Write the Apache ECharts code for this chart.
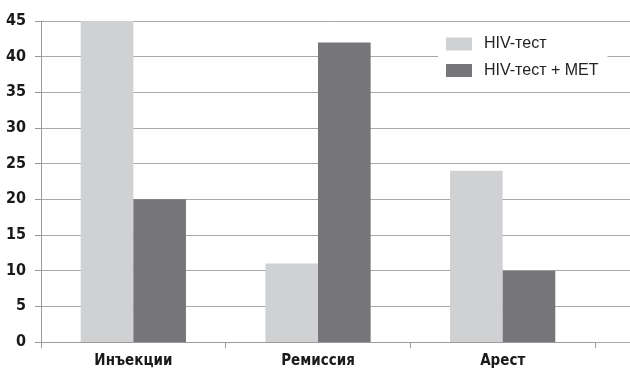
<!DOCTYPE html>
<html>
<head>
<meta charset="utf-8">
<script src="https://cdn.jsdelivr.net/npm/echarts@6/dist/echarts.min.js"></script>
<style>
  html, body { margin: 0; padding: 0; background: #fff; }
  #chart { width: 630px; height: 370px; }
</style>
</head>
<body>
<div id="chart"></div>
<script>
// Categories and values for each group
const categories = ['Инъекции', 'Ремиссия', 'Арест'];
const seriesNames = ['HIV-тест', 'HIV-тест + MET'];
const hivTest = [45, 11, 24];
const hivTestMet = [20, 42, 10];
const yMin = 0, yMax = 45, yStep = 5;

const FONT = '"Liberation Sans", Arial, sans-serif';
const NARROW = '"DejaVu Sans Condensed", "Liberation Sans Narrow", Arial, sans-serif';
const chart = echarts.init(document.getElementById('chart'), null, { renderer: 'canvas' });

chart.setOption({
  animation: false,
  backgroundColor: '#fff',
  grid: [
    { left: 41, right: 35, top: 21, bottom: 28 },
    // wider grid used only for the horizontal guide lines running to the edge
    { left: 41, right: 0, top: 21, bottom: 28 }
  ],
  legend: {
    orient: 'vertical',
    left: 438,
    top: 27,
    padding: [9, 9, 9, 8],
    backgroundColor: '#fff',
    itemWidth: 26,
    itemHeight: 13,
    itemGap: 10.5,
    icon: 'rect',
    textStyle: { fontFamily: FONT, fontSize: 16, color: '#222', lineHeight: 16, padding: [0, 0, 0, 7] },
    data: seriesNames
  },
  xAxis: [
    {
      type: 'category',
      gridIndex: 0,
      data: categories,
      axisLine: { lineStyle: { color: '#9a9a9a', width: 1 } },
      axisTick: {
        show: true, length: 6, lineStyle: { color: '#9a9a9a' },
        // boundary ticks on the left of each category only
        interval: (i) => i < categories.length
      },
      axisLabel: { fontFamily: NARROW, fontWeight: 'bold', fontSize: 15, color: '#1a1a1a', margin: 12 }
    },
    { type: 'value', gridIndex: 1, show: false, min: 0, max: 1 }
  ],
  yAxis: [
    {
      type: 'value',
      gridIndex: 0,
      min: yMin, max: yMax, interval: yStep,
      axisLine: { show: true, lineStyle: { color: '#9a9a9a', width: 1 } },
      axisTick: { show: true, length: 6, lineStyle: { color: '#9a9a9a' } },
      splitLine: { show: false },
      axisLabel: { fontFamily: NARROW, fontWeight: 'bold', fontSize: 16, color: '#1a1a1a', margin: 15 }
    },
    {
      type: 'value',
      gridIndex: 1,
      min: yMin, max: yMax, interval: yStep,
      axisLine: { show: false },
      axisTick: { show: false },
      axisLabel: { show: false },
      splitLine: { show: true, lineStyle: { color: '#a8a8a8', width: 1 } }
    }
  ],
  series: [
    {
      name: seriesNames[0], type: 'bar', xAxisIndex: 0, yAxisIndex: 0,
      data: hivTest,
      barGap: '0%', barCategoryGap: '43%',
      itemStyle: { color: '#d0d1d3' }
    },
    {
      name: seriesNames[1], type: 'bar', xAxisIndex: 0, yAxisIndex: 0,
      data: hivTestMet,
      barGap: '0%', barCategoryGap: '43%',
      itemStyle: { color: '#76767a' }
    }
  ]
});
</script>
</body>
</html>
